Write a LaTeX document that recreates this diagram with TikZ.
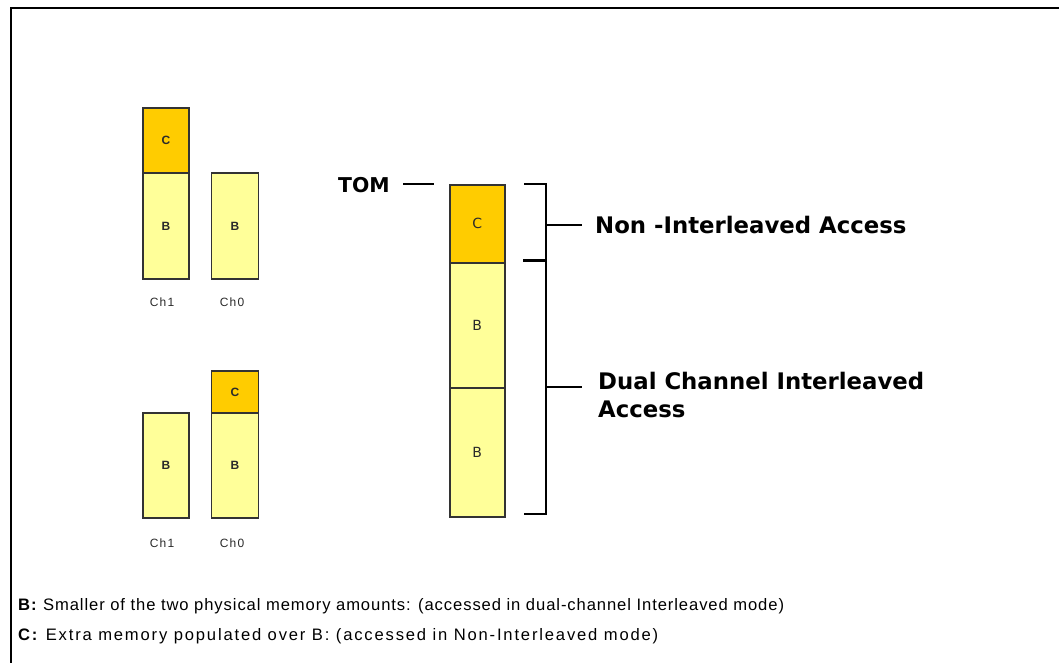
\documentclass[tikz,border=0pt]{standalone}
\usepackage{fontspec}
\setmainfont{Liberation Sans}
\newfontfamily\labelfont{DejaVu Sans}
\newfontfamily\legendfont[LetterSpace=5.5]{Liberation Sans}
\newfontfamily\legendfontc[LetterSpace=11]{Liberation Sans}
\newfontfamily\chfont[LetterSpace=10]{Liberation Sans}
\definecolor{cfill}{HTML}{FFCC00}
\definecolor{bfill}{HTML}{FFFF99}
\definecolor{edge}{HTML}{333333}
\definecolor{txt}{HTML}{2A2A2A}
\tikzset{
  memblk/.style={draw=edge, line width=1.8pt, inner sep=0pt, anchor=north west, font=\fontsize{12}{13}\selectfont\bfseries, text=txt},
  bigblk/.style={draw=edge, line width=1.5pt, inner sep=0pt, anchor=north west, font=\labelfont\fontsize{14}{15}\selectfont, text=txt},
  chlabel/.style={font=\chfont\fontsize{12}{13}\selectfont, text=txt},
  boldlabel/.style={font=\labelfont\bfseries\fontsize{22.8}{28}\selectfont, text=black, anchor=west, inner sep=0pt, align=left},
  legend/.style={font=\legendfont\fontsize{16.6}{18}\selectfont, anchor=base west, inner sep=0pt},
  brk/.style={draw=black, line width=1.5pt},
  frame/.style={draw=black, line width=2.2pt}
}
\begin{document}
\begin{tikzpicture}[x=1pt,y=-1pt]
\useasboundingbox (0,0) rectangle (1059,663);
% frame
\draw[frame] (11,663) -- (11,8) -- (1059,8);
% top-left group
\node[memblk, fill=cfill, minimum width=46pt, minimum height=65pt] (c1) at (142,107) {C};
\node[memblk, fill=bfill, minimum width=46pt, minimum height=106pt] (b1) at (142,172) {B};
\node[memblk, fill=bfill, minimum width=47pt, minimum height=106pt] (b0) at (210.5,172) {B};
\node[chlabel] (l1) at (162,302) {Ch1};
\node[chlabel] (l0) at (232,302) {Ch0};
% bottom-left group
\node[memblk, fill=bfill, minimum width=46pt, minimum height=105pt] (b1b) at (142,412) {B};
\node[memblk, fill=cfill, minimum width=47pt, minimum height=42pt] (c0b) at (210.5,370) {C};
\node[memblk, fill=bfill, minimum width=47pt, minimum height=105pt] (b0b) at (210.5,412) {B};
\node[chlabel] (l1b) at (162,543) {Ch1};
\node[chlabel] (l0b) at (232,543) {Ch0};
% main stack
\node[bigblk, fill=cfill, minimum width=55pt, minimum height=78pt] (mc) at (449,184) {C};
\node[bigblk, fill=bfill, minimum width=55pt, minimum height=125pt] (mb1) at (449,262) {B};
\node[bigblk, fill=bfill, minimum width=55pt, minimum height=129pt] (mb2) at (449,387) {B};
% TOM
\node[boldlabel, font=\labelfont\bfseries\fontsize{20.4}{22}\selectfont] (tom) at (338,185) {TOM};
\coordinate (tomA) at (403,184);
\coordinate (tomB) at (434,184);
\draw[brk] (tomA) -- (tomB);
% brackets
\coordinate (br1a) at (524,184);
\coordinate (br1b) at (546,184);
\coordinate (br1c) at (546,260);
\coordinate (tickA) at (523,260);
\coordinate (tickB) at (546,260);
\coordinate (br2c) at (546,514);
\coordinate (br2d) at (524,514);
\draw[brk] (br1a) -- (br1b) -- (br1c);
\draw[black, line width=3pt] (tickA) -- (tickB);
\draw[brk] (br1c) -- (br2c) -- (br2d);
\node[boldlabel] (ni) at (595,225) {Non -Interleaved Access};
\node[boldlabel, anchor=north west] (dc) at (598,372) {Dual Channel Interleaved\\Access};
\coordinate (niA) at (546,225);
\coordinate (niB) at (582,225);
\coordinate (dcA) at (546,387);
\coordinate (dcB) at (582,387);
\draw[brk] (niA) -- (niB);
\draw[brk] (dcA) -- (dcB);
% legend
\node[legend] (lgB) at (18,610) {\textbf{B:} Smaller of the two physical memory amounts: (accessed in dual-channel Interleaved mode)};
\node[legend, font=\legendfontc\fontsize{16.6}{18}\selectfont] (lgC) at (18,640) {\textbf{C:} Extra memory populated over B: (accessed in Non-Interleaved mode)};
\end{tikzpicture}
\end{document}
